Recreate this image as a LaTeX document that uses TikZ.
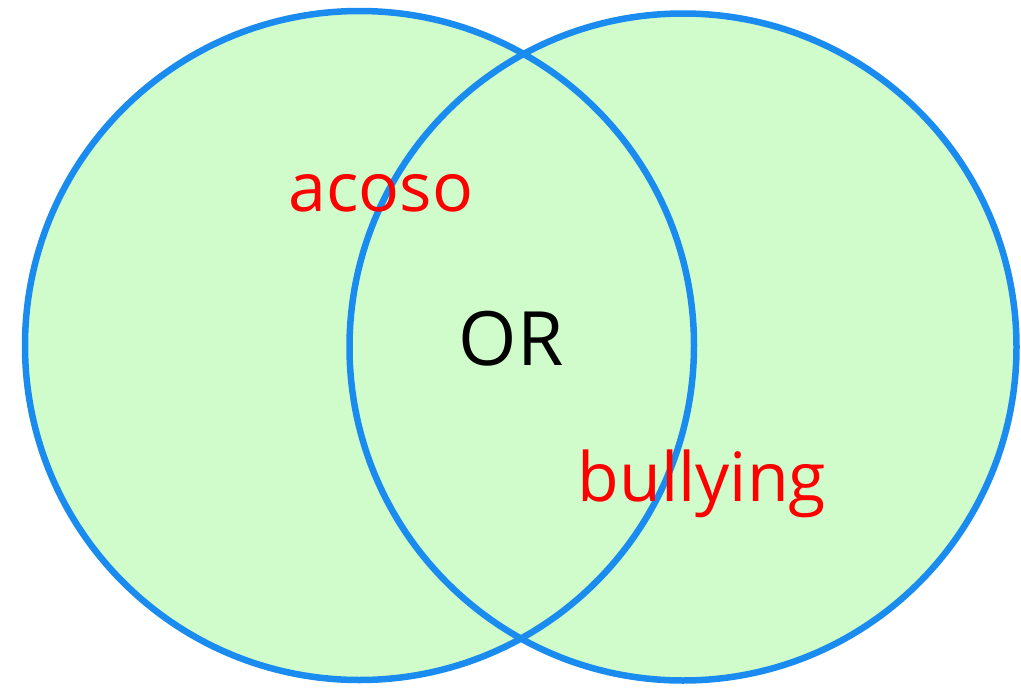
\documentclass[tikz,border=0pt]{standalone}
\usepackage{fontspec}
\setmainfont{Open Sans}
\definecolor{vennfill}{RGB}{208,252,204}
\definecolor{vennline}{RGB}{26,140,240}
\definecolor{labelred}{RGB}{255,0,0}
\begin{document}
\begin{tikzpicture}[x=1pt,y=-1pt,
  ring/.style={draw=vennline,line width=6.5pt},
  word/.style={font=\fontsize{68}{68}\selectfont,inner sep=0pt,anchor=base}]
\useasboundingbox (0,0) rectangle (1021,688);
\coordinate (cl) at (359.5,345.5);
\coordinate (cr) at (683,347);
\fill[vennfill] (cl) circle[radius=334.5];
\fill[vennfill] (cr) circle[radius=333.5];
\draw[ring] (cl) circle[radius=334.5];
\draw[ring] (cr) circle[radius=333.5];
\node[word,text=labelred] (acoso) at (381,211) {acoso};
\node[word,text=black,font=\fontsize{75}{75}\selectfont] (or) at (511,365) {OR};
\node[word,text=labelred] (bullying) at (702,501) {bullying};
\end{tikzpicture}
\end{document}
